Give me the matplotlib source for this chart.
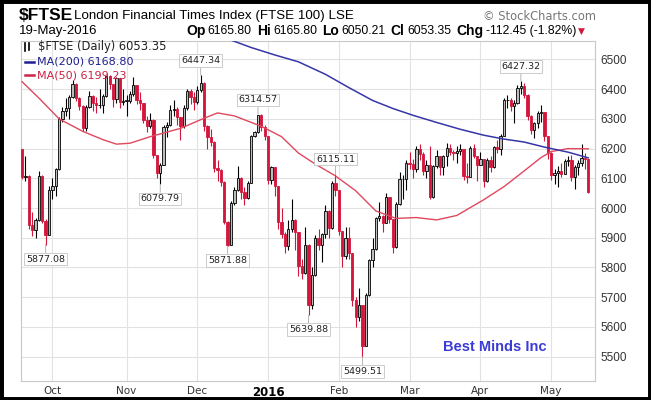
import numpy as np
import pandas as pd
import matplotlib
matplotlib.use('Agg')
import matplotlib.pyplot as plt
from matplotlib.patches import Rectangle
from matplotlib.lines import Line2D

# $FTSE daily candles, 18-Sep-2015 .. 19-May-2016
opens = [6197.4, 6104.1, 6109.0, 5942.0, 5924.9, 5961.4, 6109.0, 5958.0, 5909.2, 6061.6,
         6072.5, 6129.9, 6298.9, 6326.2, 6336.4, 6374.8, 6416.2, 6371.2, 6342.3, 6269.6,
         6338.7, 6378.0, 6352.3, 6345.0, 6348.1, 6376.3, 6444.1, 6417.0, 6366.0, 6437.8,
         6355.9, 6361.1, 6361.8, 6383.6, 6412.9, 6364.9, 6353.8, 6295.2, 6275.3, 6297.2,
         6178.7, 6118.3, 6146.3, 6271.3, 6278.0, 6329.0, 6334.6, 6305.4, 6277.2, 6337.6,
         6393.1, 6375.2, 6356.1, 6395.7, 6420.9, 6275.0, 6238.3, 6223.5, 6135.2, 6126.7,
         6088.1, 5952.8, 5874.1, 6017.8, 6061.2, 6102.5, 6052.4, 6034.8, 6083.1, 6240.9,
         6254.6, 6314.57, 6274.1, 6242.3, 6093.4, 6137.2, 6073.4, 5954.1, 5912.4, 5871.8,
         5929.2, 5961.0, 5918.2, 5804.1, 5779.9, 5876.8, 5673.6, 5773.8, 5900.0, 5877.0,
         5911.5, 5990.4, 5931.8, 6083.8, 6060.1, 5922.0, 5837.1, 5898.8, 5848.1, 5689.4,
         5632.2, 5672.3, 5536.9, 5707.6, 5824.3, 5862.2, 5966.1, 5972.0, 5950.2, 6037.7,
         5962.3, 5867.2, 6012.8, 6096.0, 6097.1, 6152.9, 6147.1, 6130.5, 6199.4, 6182.4,
         6125.4, 6146.3, 6036.7, 6139.8, 6174.6, 6139.6, 6175.5, 6201.1, 6189.6, 6184.6,
         6192.7, 6199.1, 6106.5, 6105.9, 6203.2, 6174.9, 6146.1, 6164.7, 6091.4, 6161.6,
         6136.9, 6204.4, 6200.1, 6242.4, 6362.9, 6365.1, 6343.8, 6354.0, 6405.4, 6410.3,
         6381.4, 6310.4, 6260.9, 6284.5, 6319.9, 6322.4, 6241.9, 6185.6, 6112.0, 6117.3,
         6125.7, 6114.8, 6156.7, 6162.5, 6104.2, 6138.5, 6151.4, 6167.8, 6165.8]

closes = [6104.1, 6109.0, 5942.0, 5924.9, 5961.4, 6109.0, 5958.0, 5909.2, 6061.6, 6072.5,
          6129.9, 6298.9, 6326.2, 6336.4, 6374.8, 6416.2, 6371.2, 6342.3, 6269.6, 6338.7,
          6378.0, 6352.3, 6345.0, 6348.1, 6376.3, 6444.1, 6417.0, 6366.0, 6437.8, 6355.9,
          6361.1, 6361.8, 6383.6, 6412.9, 6364.9, 6353.8, 6295.2, 6275.3, 6297.2, 6178.7,
          6118.3, 6146.3, 6271.3, 6278.0, 6329.0, 6334.6, 6305.4, 6277.2, 6337.6, 6393.1,
          6375.2, 6356.1, 6395.7, 6420.9, 6275.0, 6238.3, 6223.5, 6135.2, 6126.7, 6088.1,
          5952.8, 5874.1, 6017.8, 6061.2, 6102.5, 6052.4, 6034.8, 6083.1, 6240.9, 6254.6,
          6314.57, 6274.1, 6242.3, 6093.4, 6137.2, 6073.4, 5954.1, 5912.4, 5871.8, 5929.2,
          5961.0, 5918.2, 5804.1, 5779.9, 5876.8, 5673.6, 5773.8, 5900.0, 5877.0, 5911.5,
          5990.4, 5931.8, 6083.8, 6060.1, 5922.0, 5837.1, 5898.8, 5848.1, 5689.4, 5632.2,
          5672.3, 5536.9, 5707.6, 5824.3, 5862.2, 5966.1, 5972.0, 5950.2, 6037.7, 5962.3,
          5867.2, 6012.8, 6096.0, 6097.1, 6152.9, 6147.1, 6130.5, 6199.4, 6182.4, 6125.4,
          6146.3, 6036.7, 6139.8, 6174.6, 6139.6, 6175.5, 6201.1, 6189.6, 6184.6, 6192.7,
          6199.1, 6106.5, 6105.9, 6203.2, 6174.9, 6146.1, 6164.7, 6091.4, 6161.6, 6136.9,
          6204.4, 6200.1, 6242.4, 6362.9, 6365.1, 6343.8, 6354.0, 6405.4, 6410.3, 6381.4,
          6310.4, 6260.9, 6284.5, 6319.9, 6322.4, 6241.9, 6185.6, 6112.0, 6117.3, 6125.7,
          6114.8, 6156.7, 6162.5, 6104.2, 6138.5, 6151.4, 6167.8, 6165.8, 6053.35]

highs = [6200, 6175, 6112, 5985, 5968, 6125, 6110, 5962, 6075, 6100,
         6135, 6305, 6340, 6370, 6380, 6430, 6420, 6375, 6345, 6345,
         6395, 6380, 6375, 6400, 6385, 6445, 6446, 6418, 6440, 6439,
         6400, 6380, 6395, 6440, 6415, 6390, 6355, 6310, 6320, 6299,
         6180, 6150, 6280, 6290, 6345, 6365, 6340, 6307, 6345, 6400,
         6400, 6390, 6410, 6447.34, 6425, 6280, 6265, 6225, 6160, 6130,
         6090, 5955, 6025, 6070, 6140, 6105, 6070, 6090, 6245, 6258,
         6314.57, 6315, 6280, 6244, 6140, 6138, 6075, 6000, 5920, 5960,
         6030, 5962, 5920, 5830, 5935, 5878, 5800, 5910, 5930, 5915,
         6010, 5992, 6090, 6115.11, 6062, 5924, 5935, 5935, 5850, 5700,
         5730, 5674, 5715, 5830, 5900, 5970, 6020, 5975, 6050, 6038,
         5964, 6020, 6120, 6110, 6160, 6190, 6165, 6210, 6215, 6190,
         6160, 6210, 6145, 6195, 6176, 6180, 6220, 6215, 6195, 6210,
         6215, 6200, 6150, 6210, 6215, 6176, 6190, 6166, 6170, 6175,
         6210, 6230, 6250, 6370, 6380, 6370, 6365, 6415, 6427.32, 6420,
         6383, 6312, 6290, 6325, 6345, 6324, 6243, 6187, 6130, 6140,
         6150, 6165, 6175, 6180, 6145, 6160, 6215, 6185, 6165.8]

lows = [6096, 6090, 5930, 5905, 5900, 5958, 5950, 5877.08, 5909, 6030,
        6040, 6129, 6290, 6310, 6300, 6370, 6360, 6330, 6260, 6260,
        6335, 6325, 6320, 6338, 6320, 6372, 6400, 6340, 6355, 6335,
        6345, 6310, 6355, 6378, 6350, 6330, 6285, 6255, 6270, 6170,
        6100, 6079.79, 6146, 6240, 6275, 6310, 6280, 6230, 6270, 6330,
        6350, 6330, 6350, 6390, 6260, 6200, 6210, 6120, 6090, 6075,
        5945, 5871.88, 5874, 6010, 6058, 6030, 6010, 6030, 6083, 6238,
        6254, 6260, 6230, 6080, 6080, 6040, 5930, 5900, 5850, 5860,
        5920, 5860, 5770, 5760, 5778, 5639.88, 5660, 5770, 5860, 5820,
        5900, 5900, 5930, 6040, 5910, 5800, 5830, 5830, 5670, 5600,
        5620, 5499.51, 5536, 5705, 5800, 5860, 5955, 5920, 5948, 5950,
        5850, 5865, 6010, 6030, 6060, 6130, 6100, 6120, 6160, 6110,
        6100, 6030, 6035, 6135, 6110, 6110, 6140, 6180, 6160, 6150,
        6180, 6095, 6085, 6104, 6170, 6090, 6144, 6070, 6089, 6120,
        6135, 6185, 6180, 6241, 6335, 6325, 6285, 6350, 6385, 6370,
        6295, 6250, 6235, 6270, 6290, 6225, 6165, 6095, 6080, 6070,
        6105, 6113, 6140, 6090, 6065, 6110, 6140, 6130, 6050.21]

# moving averages, read at a handful of trading days
ma50_idx = [0, 5, 11, 18, 24, 28, 32, 38, 47, 54, 58, 63, 71, 77, 82, 87, 93, 99, 105,
            111, 117, 123, 129, 137, 143, 149, 154, 157, 162, 168]
ma50_val = [6425, 6370, 6300, 6258, 6230, 6215, 6218, 6240, 6268, 6302, 6320, 6310, 6275,
            6240, 6185, 6148, 6108, 6058, 5990, 5965, 5968, 5960, 5975, 6028, 6072, 6125,
            6170, 6190, 6200, 6199.23]
ma200_idx = [62, 68, 75, 82, 90, 97, 104, 110, 116, 123, 130, 137, 143, 149, 155, 162, 168]
ma200_val = [6565, 6540, 6515, 6492, 6450, 6405, 6362, 6335, 6312, 6288, 6265, 6245, 6232,
             6222, 6205, 6188, 6168.80]

# swing points that carry a value label
ann_idx = [7, 53, 41, 70, 61, 93, 85, 101, 148]
ann_side = ['low', 'high', 'low', 'high', 'low', 'high', 'low', 'low', 'high']

uk_holidays = ['2015-12-25', '2015-12-28', '2016-03-25', '2016-03-28', '2016-05-02']
dates = pd.bdate_range('2015-09-18', '2016-05-19')
dates = dates[~dates.isin(pd.to_datetime(uk_holidays))]

W, H = 651, 400
RED = '#d3163c'
px = lambda x: x / W
py = lambda y: 1 - y / H

fig = plt.figure(figsize=(W / 100, H / 100), dpi=100)
ax = fig.add_axes([px(20.7), py(381), 574.3 / W, 340 / H])

n = len(closes)
xs = np.arange(n)

# candles: black hollow when up, red filled when down
for i in xs:
    o, c = opens[i], closes[i]
    up = c >= o
    col = 'black' if up else RED
    ax.vlines(i, lows[i], highs[i], color=col, lw=0.8, zorder=2)
    ax.bar(i, max(abs(c - o), 0.8), bottom=min(o, c), width=0.68,
           color='#bdbdbd' if up else RED, edgecolor=col, linewidth=0.6, zorder=3)

ax.plot(ma50_idx, ma50_val, color='#e0485e', lw=1.0, zorder=4)
ax.plot(ma200_idx, ma200_val, color='#3636a8', lw=1.1, zorder=4)

for i, side in zip(ann_idx, ann_side):
    val = highs[i] if side == 'high' else lows[i]
    off = 10.5 if side == 'high' else -10.5
    ax.annotate(f'{val:.2f}', xy=(i, val), xytext=(0, off), textcoords='offset points',
                ha='center', va='center', fontsize=6.8, color='#222222',
                family='DejaVu Sans', zorder=6,
                bbox=dict(boxstyle='square,pad=0.18', fc='white', ec='#c4c4c4', lw=0.6),
                arrowprops=dict(arrowstyle='-', color='#aaaaaa', lw=0.6, shrinkA=0, shrinkB=0))

ax.set_xlim(-0.4, 170)
ax.set_ylim(5418, 6562)

month_idx = [i for i in range(1, n) if dates[i].month != dates[i - 1].month]
month_lab = [str(dates[i].year) if dates[i].month == 1 else dates[i].strftime('%b')
             for i in month_idx]
ax.set_xticks(month_idx)
ax.set_xticklabels(month_lab, fontsize=7.5, family='DejaVu Sans', color='#333333')
for t in ax.get_xticklabels():
    if t.get_text() == '2016':
        t.set_fontweight('bold')
        t.set_fontsize(8.5)
        t.set_color('black')

yt = list(range(5500, 6501, 100))
ax.set_yticks(yt)
ax.set_yticklabels([str(v) for v in yt], fontsize=8.5, family='Liberation Sans', color='#333333')
ax.yaxis.tick_right()
ax.tick_params(length=0)
ax.tick_params(axis='x', pad=3.5)
ax.tick_params(axis='y', pad=4)
ax.grid(True, color='#e2e2e2', lw=0.8, zorder=0)
ax.set_axisbelow(True)
for s in ax.spines.values():
    s.set_color('#c8c8c8')
    s.set_linewidth(0.8)

# legend inside the plot
ax.text(0.03, 0.983, f'$FTSE (Daily) {closes[-1]:.2f}', transform=ax.transAxes,
        fontsize=8.3, family='DejaVu Sans', color='#222222', va='center', ha='left', zorder=7)
# tiny candle icon
for xx, y0, y1 in [(24.5, 43, 51), (28.5, 42.5, 50)]:
    fig.add_artist(Line2D([px(xx), px(xx)], [py(y0), py(y1)], color='black', lw=1.2))
ax.text(0.0285, 0.939, f'MA(200) {ma200_val[-1]:.2f}', transform=ax.transAxes,
        fontsize=8, family='DejaVu Sans', color='#1f1f8f', va='center', ha='left', zorder=7)
ax.text(0.0285, 0.900, f'MA(50) {ma50_val[-1]:.2f}', transform=ax.transAxes,
        fontsize=8, family='DejaVu Sans', color='#cc2243', va='center', ha='left', zorder=7)
fig.add_artist(Line2D([px(25), px(34)], [py(61.7), py(61.7)], color='#1f1f8f', lw=1.8))
fig.add_artist(Line2D([px(25), px(34)], [py(75), py(75)], color='#cc2243', lw=1.8))

ax.text(0.825, 0.1, 'Best Minds Inc', transform=ax.transAxes, fontsize=10.5,
        fontweight='bold', family='Liberation Sans', color='#3b3bd6', ha='center', va='center')

# header
fig.text(px(19), py(16), '$FTSE', fontsize=12.5, fontweight='bold', family='Liberation Sans',
         va='center', ha='left')
fig.text(px(74), py(16.5), 'London Financial Times Index (FTSE 100) LSE', fontsize=9.6,
         family='Liberation Sans', va='center', ha='left')
fig.text(px(596), py(16), '\u00a9 StockCharts.com', fontsize=8.3, family='DejaVu Sans',
         color='#777777', va='center', ha='right')
fig.text(px(19), py(31), dates[-1].strftime('%d-%b-%Y'), fontsize=9.5,
         family='Liberation Sans', va='center', ha='left')

chg = closes[-1] - closes[-2]
pct = chg / closes[-2] * 100
parts = [('Op', 'bold'), (f'{opens[-1]:.2f}', 'normal'), ('Hi', 'bold'), (f'{highs[-1]:.2f}', 'normal'),
         ('Lo', 'bold'), (f'{lows[-1]:.2f}', 'normal'), ('Cl', 'bold'), (f'{closes[-1]:.2f}', 'normal'),
         ('Chg', 'bold'), (f'{chg:.2f} ({pct:.2f}%)', 'normal')]
renderer = fig.canvas.get_renderer()
x = 186
for txt, wt in parts:
    t = fig.text(px(x), py(31), txt, fontsize=10 if wt == 'bold' else 8.8, fontweight=wt,
                 family='Liberation Sans', va='center', ha='left')
    bb = t.get_window_extent(renderer)
    x = bb.x1 + (2.5 if wt == 'bold' else 5)
fig.text(px(x - 3), py(31), '\u25bc', fontsize=6.5, family='DejaVu Sans', color=RED,
         va='center', ha='left')

# black frame around the picture
fig.add_artist(Rectangle((0, 0), 1, 1, transform=fig.transFigure, fill=False,
                         edgecolor='black', lw=5))

fig.savefig('out.png', dpi=100)
